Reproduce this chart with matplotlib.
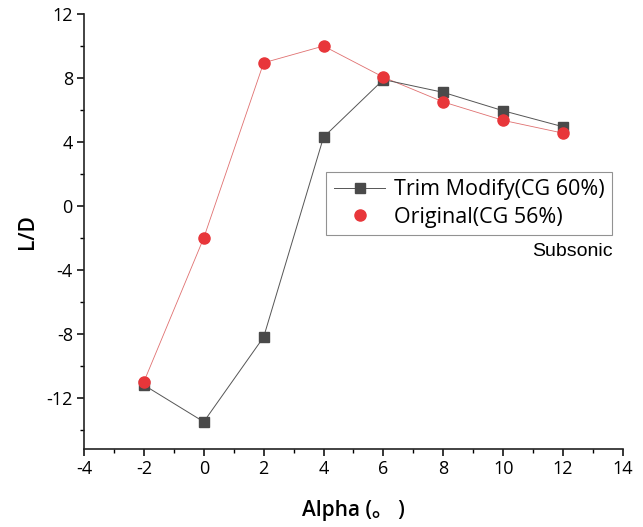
import matplotlib
matplotlib.use("Agg")
import matplotlib.pyplot as plt
from matplotlib.ticker import MultipleLocator

alpha = [-2, 0, 2, 4, 6, 8, 10, 12]
ld_trim = [-11.2, -13.5, -8.2, 4.3, 7.9, 7.1, 5.95, 4.95]
ld_orig = [-11.0, -2.0, 8.95, 10.0, 8.05, 6.5, 5.35, 4.55]

FONT = ["Open Sans", "DejaVu Sans"]
plt.rcParams["font.family"] = FONT
plt.rcParams["axes.unicode_minus"] = False

fig = plt.figure(figsize=(6.43, 5.27), dpi=100)
ax = fig.add_axes([0.1306, 0.148, 0.8383, 0.8254])

ax.plot(alpha, ld_orig, color="#e07070", lw=0.6, zorder=2)
ax.plot(alpha, ld_trim, color="#555555", lw=0.7, marker="s", ms=6.5,
        mfc="#4a4a4a", mec="#4a4a4a", label="Trim Modify(CG 60%)", zorder=3)
ax.plot(alpha, ld_orig, ls="none", marker="o", ms=8, mfc="#e8363a", mec="#e8363a",
        label="Original(CG 56%)", zorder=4)

ax.set_xlim(-4, 14)
ax.set_ylim(-15.2, 12)
ax.xaxis.set_major_locator(MultipleLocator(2))
ax.xaxis.set_minor_locator(MultipleLocator(1))
ax.yaxis.set_major_locator(MultipleLocator(4))
ax.yaxis.set_minor_locator(MultipleLocator(2))
ax.spines["top"].set_visible(False)
ax.spines["right"].set_visible(False)
for s in ("left", "bottom"):
    ax.spines[s].set_linewidth(1.2)
    ax.spines[s].set_color("#222222")
ax.tick_params(which="major", direction="out", length=5, width=1.1, labelsize=13, pad=3)
ax.tick_params(which="minor", direction="out", length=3, width=1.0)

ax.set_xlabel("Alpha (。 )", fontsize=15, fontweight="semibold",
              family=FONT[:1] + ["Noto Sans CJK SC"], labelpad=16)
ax.set_ylabel("L/D", fontsize=15, fontweight="semibold", labelpad=6)

leg = ax.legend(loc="upper right", bbox_to_anchor=(0.98, 0.637), fontsize=15.5,
                frameon=True, fancybox=False, edgecolor="#777777", borderaxespad=0,
                handlelength=2.4, handletextpad=0.4, borderpad=0.35, labelspacing=0.3)
leg.get_frame().set_linewidth(0.8)

ax.text(0.981, 0.453, "Subsonic", transform=ax.transAxes, ha="right", va="center",
        fontsize=14, family=["Liberation Sans", "DejaVu Sans"])

fig.savefig("out.png", dpi=100)
